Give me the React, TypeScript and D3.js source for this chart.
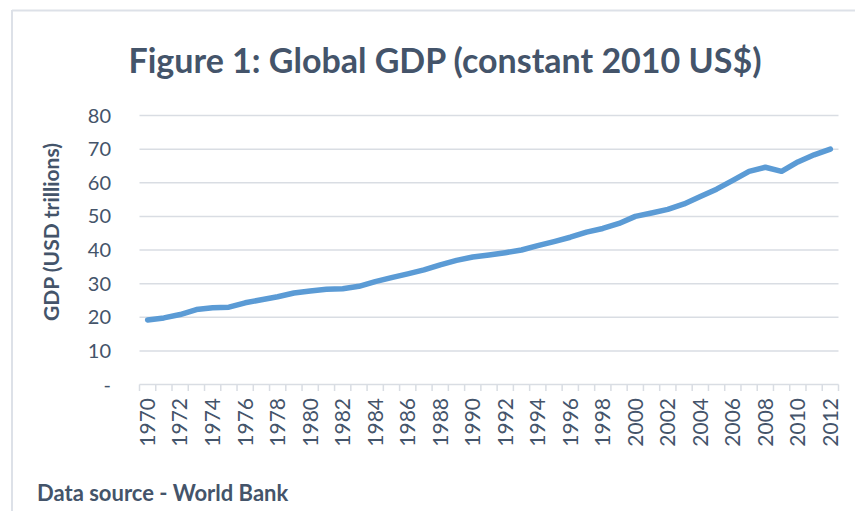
import React from "react";
import * as d3 from "d3";

const years: number[] = d3.range(1970, 2013);
const gdpTrillions: number[] = [
  19.2, 19.8, 20.8, 22.3, 22.8, 23.0, 24.3, 25.2, 26.1, 27.2,
  27.8, 28.3, 28.5, 29.2, 30.6, 31.8, 32.9, 34.1, 35.6, 36.9,
  37.9, 38.5, 39.2, 40.0, 41.3, 42.5, 43.8, 45.3, 46.4, 47.9,
  50.0, 51.0, 52.1, 53.7, 55.9, 58.1, 60.7, 63.4, 64.6, 63.4,
  66.2, 68.3, 70.0,
];
const yTicks: number[] = [0, 10, 20, 30, 40, 50, 60, 70, 80];
const xLabelYears: number[] = years.filter((y) => (y - 1970) % 2 === 0);

const TITLE = "Figure 1: Global GDP (constant 2010 US$)";
const Y_TITLE = "GDP (USD trillions)";
const SOURCE = "Data source - World Bank";

const W = 855;
const H = 511;
const FONT = "Lato, 'Open Sans', sans-serif";
const TEXT = "#44546A";
const GRID = "#D9DDE3";
const LINE = "#5B9BD5";

export default function App() {
  const x = d3
    .scaleBand<number>()
    .domain(years)
    .range([139.5, 838.5])
    .padding(0);
  const y = d3.scaleLinear().domain([0, 80]).range([384.5, 115.5]);
  const cx = (yr: number) => (x(yr) as number) + x.bandwidth() / 2;

  const line = d3
    .line<number>()
    .x((_, i) => cx(years[i]))
    .y((d) => y(d));

  const tickEdges = d3.range(years.length + 1).map((i) => 139.5 + i * x.bandwidth());

  return (
    <svg
      width={W}
      height={H}
      style={{ position: "absolute", left: 0, top: 0, background: "#fff" }}
    >
      <rect x={0} y={0} width={W} height={H} fill="#fff" />
      {/* chart border */}
      <line x1={12} y1={10.5} x2={W} y2={10.5} stroke="#DDE1E8" strokeWidth={2} />
      <line x1={12} y1={10} x2={12} y2={H} stroke="#DDE1E8" strokeWidth={2} />

      {/* title */}
      <text
        x={445}
        y={73}
        textAnchor="middle"
        fontFamily={FONT}
        fontWeight={700}
        fontSize={34}
        fill={TEXT}
      >
        {TITLE}
      </text>

      {/* gridlines */}
      {yTicks
        .filter((t) => t > 0)
        .map((t) => (
          <line
            key={`g${t}`}
            x1={139.5}
            x2={838.5}
            y1={y(t)}
            y2={y(t)}
            stroke={GRID}
            strokeWidth={1.5}
          />
        ))}

      {/* y tick labels */}
      {yTicks.map((t) => (
        <text
          key={`yl${t}`}
          x={111}
          y={y(t)}
          dy="0.35em"
          textAnchor="end"
          fontFamily={FONT}
          fontSize={20}
          fill={TEXT}
        >
          {t === 0 ? "-" : String(t)}
        </text>
      ))}

      {/* y title */}
      <text
        transform={`translate(59,232) rotate(-90)`}
        textAnchor="middle"
        fontFamily={FONT}
        fontWeight={700}
        fontSize={21}
        fill={TEXT}
      >
        {Y_TITLE}
      </text>

      {/* x axis */}
      <line x1={139.5} x2={838.5} y1={384.5} y2={384.5} stroke={GRID} strokeWidth={1.5} />
      {tickEdges.map((ex, i) => (
        <line
          key={`t${i}`}
          x1={ex}
          x2={ex}
          y1={384.5}
          y2={391}
          stroke={GRID}
          strokeWidth={1.5}
        />
      ))}
      {xLabelYears.map((yr) => (
        <text
          key={`xl${yr}`}
          transform={`translate(${cx(yr)},398) rotate(-90)`}
          textAnchor="end"
          dy="0.35em"
          fontFamily={FONT}
          fontSize={21}
          fill={TEXT}
        >
          {yr}
        </text>
      ))}

      {/* data line */}
      <path
        d={line(gdpTrillions) ?? ""}
        fill="none"
        stroke={LINE}
        strokeWidth={5.5}
        strokeLinecap="round"
        strokeLinejoin="round"
      />

      {/* source */}
      <text
        x={37}
        y={501}
        fontFamily={FONT}
        fontWeight={700}
        fontSize={22}
        fill={TEXT}
      >
        {SOURCE}
      </text>
    </svg>
  );
}
